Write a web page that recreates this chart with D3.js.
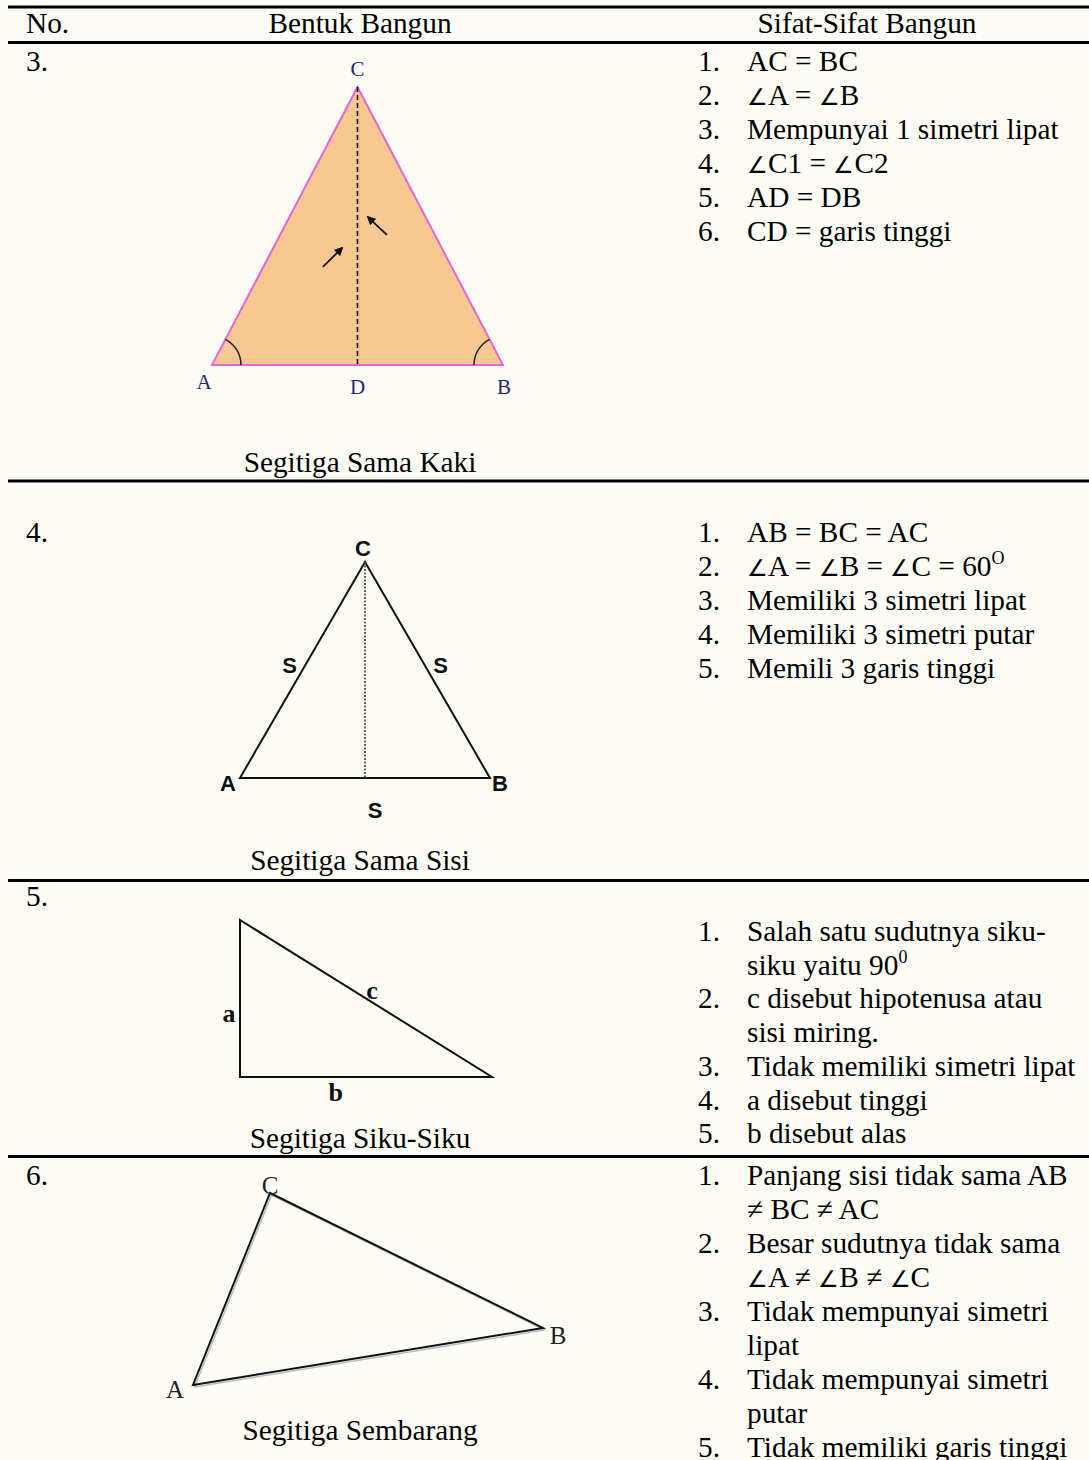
<!DOCTYPE html>
<html>
<head>
<meta charset="utf-8">
<script src="https://cdn.jsdelivr.net/npm/d3@7"></script>
<style>
  html, body { margin: 0; padding: 0; background: #fdfdf6; }
  svg { display: block; }
</style>
</head>
<body>
<div id="chart"></div>
<script>
// 表头与每行的文字
const headers = ["No.", "Bentuk Bangun", "Sifat-Sifat Bangun"];
const rowNumbers = ["3.", "4.", "5.", "6."];
const captions = ["Segitiga Sama Kaki", "Segitiga Sama Sisi", "Segitiga Siku-Siku", "Segitiga Sembarang"];

// 每个性质可以折成多行, "^" 后面是上标
const sifatSamaKaki = [["AC = BC"], ["∠A = ∠B"], ["Mempunyai 1 simetri lipat"], ["∠C1 = ∠C2"], ["AD = DB"], ["CD = garis tinggi"]];
const sifatSamaSisi = [["AB = BC = AC"], ["∠A = ∠B = ∠C = 60^O"], ["Memiliki 3 simetri lipat"], ["Memiliki 3 simetri putar"], ["Memili 3 garis tinggi"]];
const sifatSikuSiku = [["Salah satu sudutnya siku-", "siku yaitu 90^0"], ["c disebut hipotenusa atau", "sisi miring."], ["Tidak memiliki simetri lipat"], ["a disebut tinggi"], ["b disebut alas"]];
const sifatSembarang = [["Panjang sisi tidak sama AB", "≠ BC  ≠ AC"], ["Besar sudutnya tidak sama", "∠A ≠ ∠B ≠ ∠C"], ["Tidak mempunyai simetri", "lipat"], ["Tidak mempunyai simetri", "putar"], ["Tidak memiliki garis tinggi"]];

// 三角形顶点 (各自的 0-100 单位坐标)
const samaKakiPts = [{name: "A", x: 0, y: 0}, {name: "B", x: 100, y: 0}, {name: "C", x: 50, y: 100}];
const samaKakiD = {name: "D", x: 50, y: 0};
const samaKakiArrows = [[38.1, 35.3, 44.7, 42.1], [60.1, 46.8, 53.6, 53.2]];
const samaSisiPts = [{name: "A", x: 0, y: 0}, {name: "B", x: 100, y: 0}, {name: "C", x: 50, y: 100}];
const sikuPts = [{x: 0, y: 100}, {x: 0, y: 0}, {x: 100, y: 0}];
const sembarangPts = [{name: "A", x: 0, y: 0}, {name: "B", x: 100, y: 29.7}, {name: "C", x: 22, y: 100}];

const W = 1089, H = 1460;
const serif = "'Liberation Serif', 'Times New Roman', serif";

const svg = d3.select("#chart").append("svg")
    .attr("width", W)
    .attr("height", H)
    .style("font-family", serif);

svg.append("rect").attr("width", W).attr("height", H).attr("fill", "#fdfdf6");

const defs = svg.append("defs");
defs.append("marker")
    .attr("id", "arrow")
    .attr("viewBox", "0 0 10 10")
    .attr("refX", 8).attr("refY", 5)
    .attr("markerWidth", 5).attr("markerHeight", 5)
    .attr("orient", "auto")
    .append("path")
    .attr("d", "M0,0 L10,5 L0,10 z")
    .attr("fill", "#111");

// 表格横线
const ruleY = [7, 42.5, 481, 880.5, 1156.5];
svg.append("g").selectAll("line")
    .data(ruleY)
    .join("line")
    .attr("x1", 8).attr("x2", W)
    .attr("y1", d => d).attr("y2", d => d)
    .attr("stroke", "#000")
    .attr("stroke-width", 3);

const fontSize = 29.3;

// 表头
const headerX = [26, 360, 867];
svg.append("g").selectAll("text")
    .data(headers)
    .join("text")
    .attr("x", (d, i) => headerX[i])
    .attr("y", 33)
    .attr("text-anchor", (d, i) => i === 0 ? "start" : "middle")
    .attr("font-size", fontSize)
    .text(d => d);

// 行号
const rowNumY = [71, 542, 906, 1185];
svg.append("g").selectAll("text")
    .data(rowNumbers)
    .join("text")
    .attr("x", 26)
    .attr("y", (d, i) => rowNumY[i])
    .attr("font-size", fontSize)
    .text(d => d);

// 图形名称
const captionY = [472, 870, 1148, 1440];
svg.append("g").selectAll("text")
    .data(captions)
    .join("text")
    .attr("x", 360)
    .attr("y", (d, i) => captionY[i])
    .attr("text-anchor", "middle")
    .attr("font-size", fontSize)
    .text(d => d);

// 把一行文字拆成 tspan: ∠ 缩小, "^" 后为上标
function fillLine(t, line) {
    const parts = line.split("^");
    parts[0].split(/(∠)/).filter(s => s).forEach(s => {
        const sp = t.append("tspan").text(s);
        if (s === "∠") sp.attr("font-size", fontSize * 0.8);
    });
    if (parts[1]) {
        t.append("tspan").attr("dy", -12).attr("font-size", 18).text(parts[1]);
    }
}

// 性质列表
function drawList(items, y0, step) {
    const g = svg.append("g").attr("font-size", fontSize);
    let k = 0;
    items.forEach((lines, i) => {
        g.append("text").attr("x", 698).attr("y", y0 + k * step).text((i + 1) + ".");
        lines.forEach(line => {
            const t = g.append("text").attr("x", 747).attr("y", y0 + k * step);
            fillLine(t, line);
            k++;
        });
    });
}
drawList(sifatSamaKaki, 71, 34);
drawList(sifatSamaSisi, 542, 34);
drawList(sifatSikuSiku, 941, 33.7);
drawList(sifatSembarang, 1185, 34);

const line = d3.line();

// ---- Segitiga Sama Kaki ----
{
    const x = d3.scaleLinear().domain([0, 100]).range([212, 503]);
    const y = d3.scaleLinear().domain([0, 100]).range([365, 87]);
    const g = svg.append("g");
    g.append("path")
        .datum(samaKakiPts)
        .attr("d", d => line(d.map(p => [x(p.x), y(p.y)])) + "Z")
        .attr("fill", "#f8c892")
        .attr("stroke", "#e466d6")
        .attr("stroke-width", 2);
    g.append("line")
        .attr("x1", x(samaKakiPts[2].x)).attr("y1", y(samaKakiPts[2].y))
        .attr("x2", x(samaKakiD.x)).attr("y2", y(samaKakiD.y))
        .attr("stroke", "#111").attr("stroke-width", 1.6)
        .attr("stroke-dasharray", "5,3");
    // 底角的弧
    const A = samaKakiPts[0], B = samaKakiPts[1], C = samaKakiPts[2];
    const angA = Math.atan2(y(C.y) - y(A.y), x(C.x) - x(A.x));
    const angB = Math.atan2(y(C.y) - y(B.y), x(C.x) - x(B.x));
    const pa = d3.path();
    pa.arc(x(A.x), y(A.y), 29, angA, 0, false);
    const pb = d3.path();
    pb.arc(x(B.x), y(B.y), 29, Math.PI, angB, false);
    g.selectAll("path.arc")
        .data([pa.toString(), pb.toString()])
        .join("path")
        .attr("class", "arc")
        .attr("d", d => d)
        .attr("fill", "none")
        .attr("stroke", "#222")
        .attr("stroke-width", 1.5);
    g.selectAll("line.arr")
        .data(samaKakiArrows)
        .join("line")
        .attr("class", "arr")
        .attr("x1", d => x(d[0])).attr("y1", d => y(d[1]))
        .attr("x2", d => x(d[2])).attr("y2", d => y(d[3]))
        .attr("stroke", "#111").attr("stroke-width", 1.8)
        .attr("marker-end", "url(#arrow)");
    const labels = [
        {t: "A", p: A, dx: -8, dy: 24},
        {t: "D", p: samaKakiD, dx: 0, dy: 29},
        {t: "B", p: B, dx: 1, dy: 29},
        {t: "C", p: C, dx: 0, dy: -11}
    ];
    g.selectAll("text")
        .data(labels)
        .join("text")
        .attr("x", d => x(d.p.x) + d.dx)
        .attr("y", d => y(d.p.y) + d.dy)
        .attr("text-anchor", "middle")
        .attr("font-size", 21)
        .attr("fill", "#262670")
        .text(d => d.t);
}

// ---- Segitiga Sama Sisi ----
{
    const x = d3.scaleLinear().domain([0, 100]).range([240, 490]);
    const y = d3.scaleLinear().domain([0, 100]).range([778, 562]);
    const g = svg.append("g");
    g.append("path")
        .datum(samaSisiPts)
        .attr("d", d => line(d.map(p => [x(p.x), y(p.y)])) + "Z")
        .attr("fill", "none")
        .attr("stroke", "#111")
        .attr("stroke-width", 2);
    g.append("line")
        .attr("x1", x(50)).attr("y1", y(100))
        .attr("x2", x(50)).attr("y2", y(0))
        .attr("stroke", "#333").attr("stroke-width", 1.5)
        .attr("stroke-dasharray", "2,1.5");
    const labels = [
        {t: "C", px: 50, py: 100, dx: -2, dy: -6},
        {t: "A", px: 0, py: 0, dx: -12, dy: 13},
        {t: "B", px: 100, py: 0, dx: 10, dy: 13},
        {t: "S", px: 25, py: 50, dx: -13, dy: 3},
        {t: "S", px: 75, py: 50, dx: 13, dy: 3},
        {t: "S", px: 50, py: 0, dx: 10, dy: 40}
    ];
    g.selectAll("text")
        .data(labels)
        .join("text")
        .attr("x", d => x(d.px) + d.dx)
        .attr("y", d => y(d.py) + d.dy)
        .attr("text-anchor", "middle")
        .attr("font-family", "'Liberation Sans', Arial, sans-serif")
        .attr("font-weight", "bold")
        .attr("font-size", 22)
        .attr("fill", "#111")
        .text(d => d.t);
}

// ---- Segitiga Siku-Siku ----
{
    const x = d3.scaleLinear().domain([0, 100]).range([240, 492]);
    const y = d3.scaleLinear().domain([0, 100]).range([1077, 920]);
    const g = svg.append("g");
    g.append("path")
        .datum(sikuPts)
        .attr("d", d => line(d.map(p => [x(p.x), y(p.y)])) + "Z")
        .attr("fill", "none")
        .attr("stroke", "#111")
        .attr("stroke-width", 2);
    const labels = [
        {t: "c", px: 50, py: 50, dx: 6, dy: 0},
        {t: "a", px: 0, py: 50, dx: -11, dy: 23},
        {t: "b", px: 38, py: 0, dx: 0, dy: 24}
    ];
    g.selectAll("text")
        .data(labels)
        .join("text")
        .attr("x", d => x(d.px) + d.dx)
        .attr("y", d => y(d.py) + d.dy)
        .attr("text-anchor", "middle")
        .attr("font-weight", "bold")
        .attr("font-size", 26)
        .attr("fill", "#111")
        .text(d => d.t);
}

// ---- Segitiga Sembarang ----
{
    const x = d3.scaleLinear().domain([0, 100]).range([193, 543]);
    const y = d3.scaleLinear().domain([0, 100]).range([1385, 1193]);
    const g = svg.append("g");
    g.append("path")
        .datum(sembarangPts)
        .attr("d", d => line(d.map(p => [x(p.x) + 1.5, y(p.y) + 2])) + "Z")
        .attr("fill", "none")
        .attr("stroke", "#bbb")
        .attr("stroke-width", 1.5);
    g.append("path")
        .datum(sembarangPts)
        .attr("d", d => line(d.map(p => [x(p.x), y(p.y)])) + "Z")
        .attr("fill", "none")
        .attr("stroke", "#111")
        .attr("stroke-width", 2);
    const off = {A: [-18, 13], B: [15, 16], C: [0, 1]};
    g.selectAll("text")
        .data(sembarangPts)
        .join("text")
        .attr("x", d => x(d.x) + off[d.name][0])
        .attr("y", d => y(d.y) + off[d.name][1])
        .attr("text-anchor", "middle")
        .attr("font-size", 25)
        .attr("fill", "#222")
        .text(d => d.name);
}
</script>
</body>
</html>
